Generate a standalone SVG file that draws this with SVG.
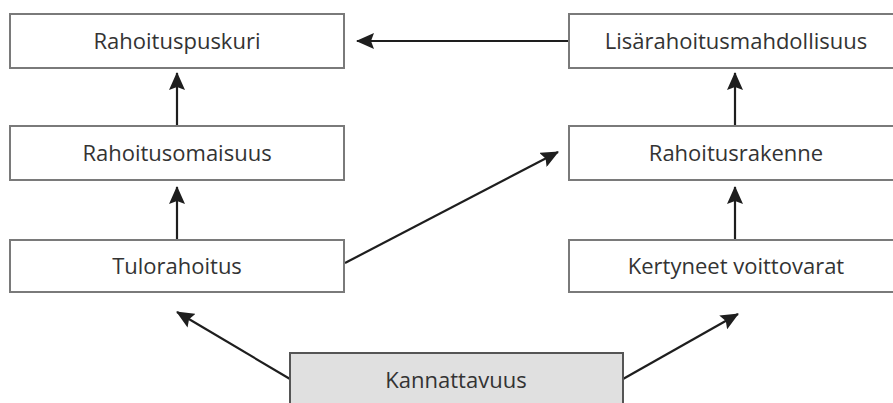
<svg xmlns="http://www.w3.org/2000/svg" width="893" height="403" viewBox="0 0 893 403">
  <defs>
    <marker id="arr" viewBox="0 0 18 16" refX="17" refY="8" markerWidth="18" markerHeight="16" markerUnits="userSpaceOnUse" orient="auto">
      <path d="M0,0 L18,8 L0,16 L3,8 Z" fill="#1e1e1e"/>
    </marker>
  </defs>
  <style>
    .box { fill: #ffffff; stroke: #7a7a7a; stroke-width: 2; }
    .grey { fill: #e0e0e0; stroke: #555555; stroke-width: 2; }
    .lbl { font-family: "Open Sans", "Noto Sans", sans-serif; font-size: 22px; fill: #333333; text-anchor: middle; }
    .conn { stroke: #1e1e1e; stroke-width: 2.2; fill: none; marker-end: url(#arr); }
  </style>
  <rect width="893" height="403" fill="#ffffff"/>
  <g id="connectors">
    <line class="conn" x1="569" y1="41" x2="357" y2="41"/>
    <line class="conn" x1="177" y1="126" x2="177" y2="73"/>
    <line class="conn" x1="177" y1="240" x2="177" y2="187"/>
    <line class="conn" x1="345" y1="263" x2="558" y2="152"/>
    <line class="conn" x1="735" y1="126" x2="735" y2="73"/>
    <line class="conn" x1="735" y1="240" x2="735" y2="187"/>
    <line class="conn" x1="290" y1="379" x2="177" y2="312"/>
    <line class="conn" x1="623" y1="379" x2="738" y2="314"/>
  </g>
  <g id="rahoituspuskuri">
    <rect class="box" x="10" y="14" width="334" height="54"/>
    <text class="lbl" x="177" y="49">Rahoituspuskuri</text>
  </g>
  <g id="rahoitusomaisuus">
    <rect class="box" x="10" y="126" width="334" height="54"/>
    <text class="lbl" x="177" y="161">Rahoitusomaisuus</text>
  </g>
  <g id="tulorahoitus">
    <rect class="box" x="10" y="240" width="334" height="52"/>
    <text class="lbl" x="177" y="274">Tulorahoitus</text>
  </g>
  <g id="lisarahoitusmahdollisuus">
    <rect class="box" x="569" y="14" width="334" height="54"/>
    <text class="lbl" x="736" y="49">Lisärahoitusmahdollisuus</text>
  </g>
  <g id="rahoitusrakenne">
    <rect class="box" x="569" y="126" width="334" height="54"/>
    <text class="lbl" x="736" y="161">Rahoitusrakenne</text>
  </g>
  <g id="kertyneet-voittovarat">
    <rect class="box" x="569" y="240" width="334" height="52"/>
    <text class="lbl" x="736" y="274">Kertyneet voittovarat</text>
  </g>
  <g id="kannattavuus">
    <rect class="grey" x="290" y="353" width="333" height="60"/>
    <text class="lbl" x="456" y="388">Kannattavuus</text>
  </g>
</svg>
